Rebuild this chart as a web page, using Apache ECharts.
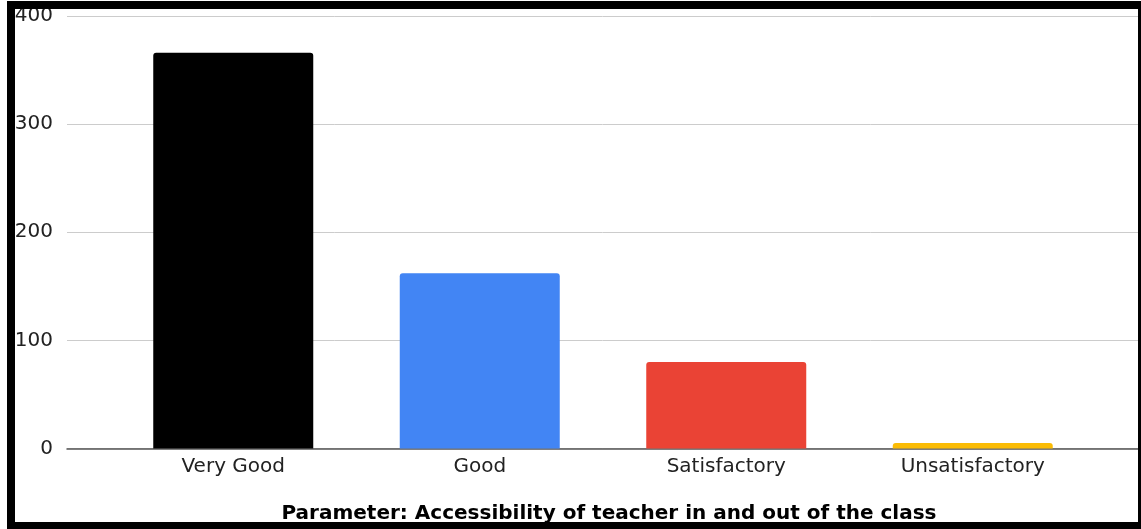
<!DOCTYPE html>
<html>
<head>
<meta charset="utf-8">
<script src="https://cdn.jsdelivr.net/npm/echarts@6/dist/echarts.min.js"></script>
<style>
html,body{margin:0;padding:0;background:#fff;overflow:hidden;}
#chart{width:1141px;height:529px;}
</style>
</head>
<body>
<div id="chart"></div>
<script>
const categories = ["Very Good", "Good", "Satisfactory", "Unsatisfactory"];
const values = [366, 162, 80, 5];
const barColors = ["#000000", "#4285F4", "#EA4335", "#FBBC04"];
const yTicks = [0, 100, 200, 300, 400];
const titleText = "Parameter: Accessibility of teacher in and out of the class";

const chart = echarts.init(document.getElementById('chart'), null, {renderer: 'canvas'});
const font = "'DejaVu Sans', sans-serif";
chart.setOption({
  backgroundColor: '#ffffff',
  animation: false,
  title: {
    text: titleText,
    left: 604, top: 499, textAlign: 'center',
    textStyle: {fontFamily: font, fontWeight: 'bold', fontSize: 20, color: '#000'}
  },
  grid: [
    {left: 67, right: 3, top: 16, bottom: 529 - 448.5, containLabel: false},
    {left: 110, right: 45, top: 16, bottom: 529 - 448.5, containLabel: false}
  ],
  xAxis: [
    {type: 'category', gridIndex: 0, data: categories, show: true,
     axisLine: {show: true, lineStyle: {color: '#555', width: 1.5}},
     axisTick: {show: false}, axisLabel: {show: false}, splitLine: {show: false}},
    {type: 'category', gridIndex: 1, data: categories,
     axisLine: {show: false}, axisTick: {show: false},
     axisLabel: {fontFamily: font, fontSize: 20, color: '#222', margin: 8},
     splitLine: {show: false}}
  ],
  yAxis: [
    {type: 'value', gridIndex: 0, min: yTicks[0], max: yTicks[yTicks.length - 1], interval: 100,
     axisLine: {show: false}, axisTick: {show: false},
     axisLabel: {fontFamily: font, fontSize: 20, color: '#222', margin: 14},
     splitLine: {lineStyle: {color: '#cccccc', width: 1}}},
    {type: 'value', gridIndex: 1, min: yTicks[0], max: yTicks[yTicks.length - 1], interval: 100,
     show: false, splitLine: {show: false}}
  ],
  series: [{
    type: 'bar', xAxisIndex: 1, yAxisIndex: 1,
    barWidth: 160,
    data: values.map((v, i) => ({value: v, itemStyle: {color: barColors[i], borderRadius: [3, 3, 0, 0]}}))
  }],
  graphic: [{
    type: 'rect', z: 100, silent: true,
    shape: {x: 11, y: 5, width: 1131, height: 521},
    style: {fill: 'none', stroke: '#000', lineWidth: 8}
  }]
});
</script>
</body>
</html>
